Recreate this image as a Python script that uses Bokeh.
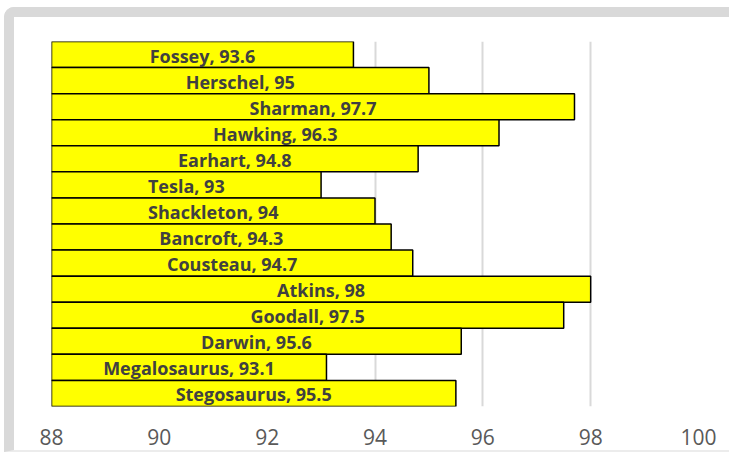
from bokeh.plotting import figure
from bokeh.models import FactorRange, Range1d, ColumnDataSource, FixedTicker
from bokeh.core.properties import value
from bokeh.embed import file_html
from bokeh.resources import INLINE

names = ["Fossey", "Herschel", "Sharman", "Hawking", "Earhart", "Tesla", "Shackleton",
         "Bancroft", "Cousteau", "Atkins", "Goodall", "Darwin", "Megalosaurus", "Stegosaurus"]
scores = [93.6, 95, 97.7, 96.3, 94.8, 93, 94, 94.3, 94.7, 98, 97.5, 95.6, 93.1, 95.5]
x_ticks = [88, 90, 92, 94, 96, 98, 100]
x_start = 88
x_end = 100

labels = [f"{n}, {v:g}" for n, v in zip(names, scores)]
mids = [(x_start + v) / 2 for v in scores]
src = ColumnDataSource(dict(name=names, score=scores, label=labels, mid=mids,
                            base=[x_start] * len(names)))

p = figure(width=725, height=445, output_backend="svg", toolbar_location=None,
           y_range=FactorRange(factors=list(reversed(names)), range_padding=0),
           x_range=Range1d(x_start, x_end),
           min_border_left=37, min_border_right=41, min_border_top=24, min_border_bottom=56)
p.outline_line_color = None
p.background_fill_color = "white"
p.border_fill_color = "white"
p.styles = {"margin-left": "4px", "margin-top": "7px",
            "border-left": "10px solid #d9d9d9", "border-top": "10px solid #d9d9d9",
            "border-bottom": "2px solid #ececec",
            "border-top-left-radius": "10px"}

p.hbar(y="name", left="base", right="score", height=1.0, source=src,
       fill_color="#ffff00", line_color="black", line_width=1.5)
p.text(x="mid", y="name", text="label", source=src, text_align="center",
       text_baseline="middle", text_font=value("Open Sans"), text_font_style="bold",
       text_font_size="18px", text_color="#404040", y_offset=1)

p.yaxis.visible = False
p.ygrid.grid_line_color = None
p.xgrid.grid_line_color = "#d9d9d9"
p.xgrid.grid_line_width = 2
p.xaxis.ticker = FixedTicker(ticks=x_ticks)
p.xaxis.axis_line_color = None
p.xaxis.major_tick_line_color = None
p.xaxis.minor_tick_line_color = None
p.xaxis.major_label_text_font = "Open Sans"
p.xaxis.major_label_text_font_size = "21px"
p.xaxis.major_label_text_color = "#595959"
p.xaxis.major_label_standoff = 16

open("out.html", "w").write(file_html(p, INLINE))
